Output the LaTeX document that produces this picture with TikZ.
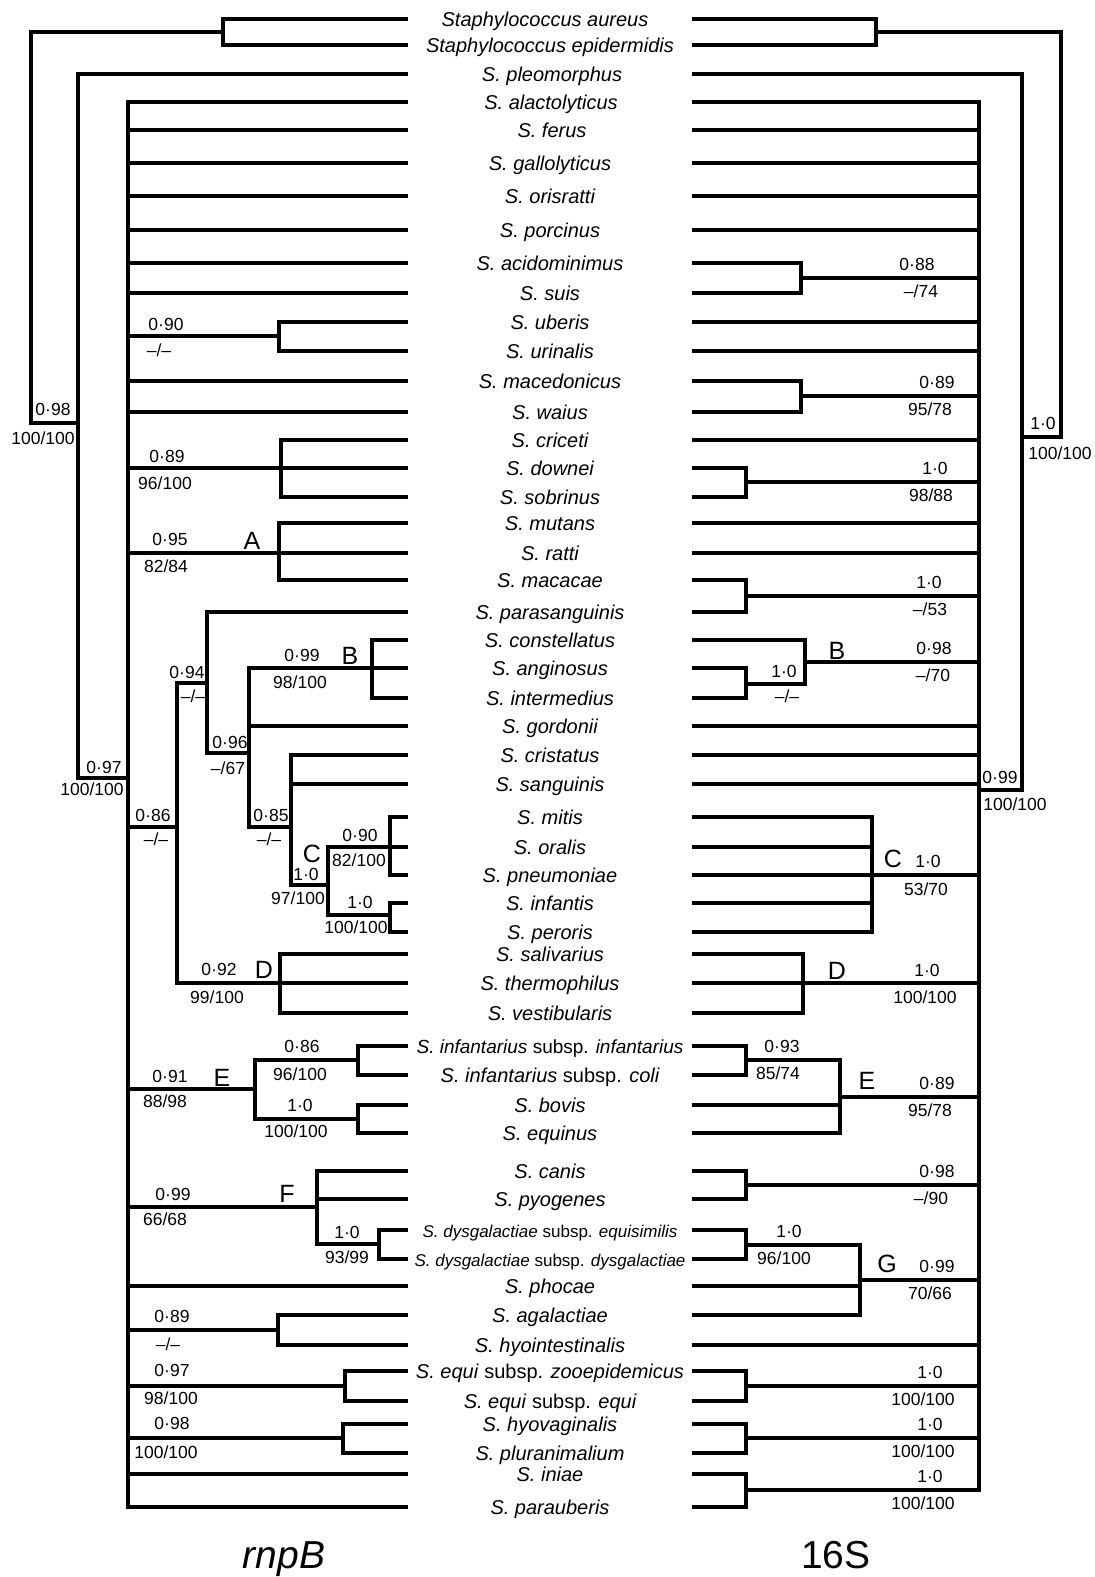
\documentclass[tikz,border=0pt]{standalone}
\usepackage{fontspec}
\setmainfont{Liberation Sans}

\begin{document}
\begin{tikzpicture}[
  x=1pt,
  y=-1pt,
  taxon/.style={
    inner sep=0pt,
    text height=14.3pt,
    text depth=0pt,
    font=\fontsize{20}{24}\selectfont\itshape
  },
  longtaxon/.style={
    taxon,
    font=\fontsize{17}{20}\selectfont\itshape
  },
  support/.style={
    inner sep=0pt,
    text height=12.5pt,
    text depth=0pt,
    font=\fontsize{17.5}{21}\selectfont
  },
  clade/.style={
    inner sep=0pt,
    text height=18pt,
    text depth=0pt,
    font=\fontsize{25}{30}\selectfont
  },
  gene/.style={
    anchor=base,
    inner sep=0pt,
    font=\fontsize{39}{46}\selectfont
  },
  branch/.style={line width=3.9pt}
]
  \useasboundingbox (0,0) rectangle (1095,1577);
  \coordinate (L) at (408,0);
  \coordinate (R) at (692,0);
  \coordinate (L0) at (128,0);
  \coordinate (R0) at (979,0);

  \node[taxon] (aur) at (545,19) {Staphylococcus aureus};
  \node[taxon] (epi) at (550,45) {Staphylococcus epidermidis};
  \node[taxon] (pleo) at (552,74) {S. pleomorphus};
  \node[taxon] (alac) at (551,102) {S. alactolyticus};
  \node[taxon] (ferus) at (552,130) {S. ferus};
  \node[taxon] (gallo) at (550,163) {S. gallolyticus};
  \node[taxon] (oris) at (550,196) {S. orisratti};
  \node[taxon] (porc) at (550,230) {S. porcinus};
  \node[taxon] (acid) at (550,263) {S. acidominimus};
  \node[taxon] (suis) at (550,293) {S. suis};
  \node[taxon] (uber) at (550,322) {S. uberis};
  \node[taxon] (urin) at (550,351) {S. urinalis};
  \node[taxon] (mace) at (550,381) {S. macedonicus};
  \node[taxon] (waius) at (550,412) {S. waius};
  \node[taxon] (cric) at (550,440) {S. criceti};
  \node[taxon] (down) at (550,468) {S. downei};
  \node[taxon] (sobr) at (550,497) {S. sobrinus};
  \node[taxon] (mut) at (550,523) {S. mutans};
  \node[taxon] (ratti) at (550,553) {S. ratti};
  \node[taxon] (maca) at (550,580) {S. macacae};
  \node[taxon] (paras) at (550,612) {S. parasanguinis};
  \node[taxon] (const) at (550,640) {S. constellatus};
  \node[taxon] (angi) at (550,668) {S. anginosus};
  \node[taxon] (inter) at (550,698) {S. intermedius};
  \node[taxon] (gord) at (550,726) {S. gordonii};
  \node[taxon] (crist) at (550,755) {S. cristatus};
  \node[taxon] (sang) at (550,784) {S. sanguinis};
  \node[taxon] (mitis) at (550,817) {S. mitis};
  \node[taxon] (oralis) at (550,847) {S. oralis};
  \node[taxon] (pneu) at (550,875) {S. pneumoniae};
  \node[taxon] (infan) at (550,903) {S. infantis};
  \node[taxon] (peror) at (550,932) {S. peroris};
  \node[taxon] (saliv) at (550,954) {S. salivarius};
  \node[taxon] (therm) at (550,983) {S. thermophilus};
  \node[taxon] (vest) at (550,1013) {S. vestibularis};
  \node[taxon, font=\fontsize{19}{23}\selectfont\itshape] (infinf) at (550,1046) {S. infantarius \textup{subsp.} infantarius};
  \node[taxon] (infcol) at (550,1075) {S. infantarius \textup{subsp.} coli};
  \node[taxon] (bovis) at (550,1105) {S. bovis};
  \node[taxon] (equinus) at (550,1133) {S. equinus};
  \node[taxon] (canis) at (550,1171) {S. canis};
  \node[taxon] (pyog) at (550,1199) {S. pyogenes};
  \node[longtaxon] (dysequ) at (550,1230) {S. dysgalactiae \textup{subsp.} equisimilis};
  \node[longtaxon] (dysdys) at (550,1259) {S. dysgalactiae \textup{subsp.} dysgalactiae};
  \node[taxon] (phocae) at (550,1286) {S. phocae};
  \node[taxon] (agal) at (550,1315) {S. agalactiae};
  \node[taxon] (hyoint) at (550,1345) {S. hyointestinalis};
  \node[taxon] (equizoo) at (550,1371) {S. equi \textup{subsp.} zooepidemicus};
  \node[taxon] (equiequi) at (550,1401) {S. equi \textup{subsp.} equi};
  \node[taxon] (hyovag) at (550,1424) {S. hyovaginalis};
  \node[taxon] (plur) at (550,1453) {S. pluranimalium};
  \node[taxon] (iniae) at (550,1474) {S. iniae};
  \node[taxon] (parau) at (550,1507) {S. parauberis};

  \draw[branch] (aur -| L) -| (223,45) -- (epi -| L);
  \draw[branch] (223,32) -| (31,423) -- (78,423);
  \draw[branch] (pleo -| L) -| (78,778) -- (128,778);
  \draw[branch] (alac -| L) -| (128,1507) -- (parau -| L);
  \draw[branch] (ferus -| L) -- (ferus -| L0) (gallo -| L) -- (gallo -| L0)
    (oris -| L) -- (oris -| L0) (porc -| L) -- (porc -| L0)
    (acid -| L) -- (acid -| L0) (suis -| L) -- (suis -| L0)
    (mace -| L) -- (mace -| L0) (waius -| L) -- (waius -| L0)
    (phocae -| L) -- (phocae -| L0) (iniae -| L) -- (iniae -| L0);
  \draw[branch] (uber -| L) -| (279,351) -- (urin -| L) (279,336) -- (128,336);
  \draw[branch] (cric -| L) -| (281,497) -- (sobr -| L) (down -| L) -- (down -| L0);
  \draw[branch] (mut -| L) -| (279,580) -- (maca -| L) (ratti -| L) -- (ratti -| L0);
  \draw[branch] (128,827) -- (177,827);
  \draw[branch] (207,683) -| (177,983) -- (therm -| L);
  \draw[branch] (paras -| L) -| (207,753) -- (249,753);
  \draw[branch] (angi -| L) -| (249,827) -- (291,827);
  \draw[branch] (const -| L) -| (372,698) -- (inter -| L);
  \draw[branch] (gord -| L) -- (249,726);
  \draw[branch] (crist -| L) -| (291,885) -- (328,885);
  \draw[branch] (sang -| L) -- (291,784);
  \draw[branch] (oralis -| L) -| (328,915) -- (390,915);
  \draw[branch] (mitis -| L) -| (390,875) -- (pneu -| L);
  \draw[branch] (infan -| L) -| (390,932) -- (peror -| L);
  \draw[branch] (saliv -| L) -| (280,1013) -- (vest -| L);
  \draw[branch] (infinf -| L) -| (358,1075) -- (infcol -| L);
  \draw[branch] (bovis -| L) -| (358,1133) -- (equinus -| L);
  \draw[branch] (358,1060) -| (255,1119) -- (358,1119);
  \draw[branch] (128,1089) -- (255,1089);
  \draw[branch] (canis -| L) -| (317,1244) -- (379,1244);
  \draw[branch] (pyog -| L) -- (317,1199);
  \draw[branch] (128,1207) -- (317,1207);
  \draw[branch] (dysequ -| L) -| (379,1259) -- (dysdys -| L);
  \draw[branch] (agal -| L) -| (278,1345) -- (hyoint -| L) (278,1330) -- (128,1330);
  \draw[branch] (equizoo -| L) -| (345,1401) -- (equiequi -| L) (345,1386) -- (128,1386);
  \draw[branch] (hyovag -| L) -| (343,1453) -- (plur -| L) (343,1438) -- (128,1438);

  \draw[branch] (aur -| R) -| (876,45) -- (epi -| R);
  \draw[branch] (876,32) -| (1061,437) -- (1022,437);
  \draw[branch] (pleo -| R) -| (1022,790) -- (979,790);
  \draw[branch] (alac -| R) -| (979,1490) -- (746,1490);
  \draw[branch] (iniae -| R) -| (746,1507) -- (parau -| R);
  \draw[branch] (ferus -| R) -- (ferus -| R0) (gallo -| R) -- (gallo -| R0)
    (oris -| R) -- (oris -| R0) (porc -| R) -- (porc -| R0)
    (uber -| R) -- (uber -| R0) (urin -| R) -- (urin -| R0)
    (cric -| R) -- (cric -| R0) (mut -| R) -- (mut -| R0)
    (ratti -| R) -- (ratti -| R0) (gord -| R) -- (gord -| R0)
    (crist -| R) -- (crist -| R0) (sang -| R) -- (sang -| R0)
    (hyoint -| R) -- (hyoint -| R0);
  \draw[branch] (acid -| R) -| (801,293) -- (suis -| R) (801,278) -- (979,278);
  \draw[branch] (mace -| R) -| (801,412) -- (waius -| R) (801,396) -- (979,396);
  \draw[branch] (down -| R) -| (746,497) -- (sobr -| R) (746,482) -- (979,482);
  \draw[branch] (maca -| R) -| (746,612) -- (paras -| R) (746,596) -- (979,596);
  \draw[branch] (angi -| R) -| (746,698) -- (inter -| R);
  \draw[branch] (const -| R) -| (805,684) -- (746,684) (805,662) -- (979,662);
  \draw[branch] (mitis -| R) -| (872,932) -- (peror -| R);
  \draw[branch] (oralis -| R) -- (872,847) (infan -| R) -- (872,903) (pneu -| R) -- (pneu -| R0);
  \draw[branch] (saliv -| R) -| (803,1013) -- (vest -| R) (therm -| R) -- (therm -| R0);
  \draw[branch] (infinf -| R) -| (746,1075) -- (infcol -| R);
  \draw[branch] (746,1060) -| (840,1133) -- (equinus -| R) (bovis -| R) -- (840,1105) (840,1097) -- (979,1097);
  \draw[branch] (canis -| R) -| (746,1199) -- (pyog -| R) (746,1185) -- (979,1185);
  \draw[branch] (dysequ -| R) -| (746,1259) -- (dysdys -| R);
  \draw[branch] (746,1245) -| (860,1315) -- (agal -| R) (phocae -| R) -- (860,1286) (860,1280) -- (979,1280);
  \draw[branch] (equizoo -| R) -| (746,1401) -- (equiequi -| R) (746,1386) -- (979,1386);
  \draw[branch] (hyovag -| R) -| (746,1453) -- (plur -| R) (746,1438) -- (979,1438);

  \node[support] (root-l) at (53,409) {0·98};
  \node[support] (root-lb) at (43,438) {100/100};
  \node[support] (strep-l) at (104,767) {0·97};
  \node[support] (strep-lb) at (92,789) {100/100};
  \node[support] (uber-l) at (166,324) {0·90};
  \node[support] (uber-lb) at (159,350) {–/–};
  \node[support] (cric-l) at (167,456) {0·89};
  \node[support] (cric-lb) at (165,483) {96/100};
  \node[support] (cladeA-l) at (170,539) {0·95};
  \node[support] (cladeA-lb) at (166,566) {82/84};
  \node[support] (n094-l) at (187,672) {0·94};
  \node[support] (n094-lb) at (193,696) {–/–};
  \node[support] (cladeB-l) at (302,655) {0·99};
  \node[support] (cladeB-lb) at (300,682) {98/100};
  \node[support] (n096-l) at (230,742) {0·96};
  \node[support] (n096-lb) at (228,768) {–/67};
  \node[support] (n086-l) at (153,815) {0·86};
  \node[support] (n086-lb) at (156,839) {–/–};
  \node[support] (n085-l) at (271,815) {0·85};
  \node[support] (n085-lb) at (269,839) {–/–};
  \node[support] (cladeC-l) at (306,874) {1·0};
  \node[support] (cladeC-lb) at (298,898) {97/100};
  \node[support] (mitis-l) at (360,835) {0·90};
  \node[support] (mitis-lb) at (359,860) {82/100};
  \node[support] (infan-l) at (360,902) {1·0};
  \node[support] (infan-lb) at (356,927) {100/100};
  \node[support] (cladeD-l) at (219,969) {0·92};
  \node[support] (cladeD-lb) at (217,997) {99/100};
  \node[support] (cladeE-l) at (170,1076) {0·91};
  \node[support] (cladeE-lb) at (165,1101) {88/98};
  \node[support] (infant-l) at (302,1046) {0·86};
  \node[support] (infant-lb) at (300,1074) {96/100};
  \node[support] (bovis-l) at (300,1105) {1·0};
  \node[support] (bovis-lb) at (296,1131) {100/100};
  \node[support] (cladeF-l) at (173,1194) {0·99};
  \node[support] (cladeF-lb) at (165,1219) {66/68};
  \node[support] (dys-l) at (347,1232) {1·0};
  \node[support] (dys-lb) at (347,1257) {93/99};
  \node[support] (agal-l) at (172,1316) {0·89};
  \node[support] (agal-lb) at (168,1344) {–/–};
  \node[support] (equi-l) at (172,1370) {0·97};
  \node[support] (equi-lb) at (171,1398) {98/100};
  \node[support] (hyovag-l) at (172,1423) {0·98};
  \node[support] (hyovag-lb) at (166,1452) {100/100};

  \node[clade] (cladeA-ln) at (252,540) {A};
  \node[clade] (cladeB-ln) at (350,655) {B};
  \node[clade] (cladeC-ln) at (312,853) {C};
  \node[clade] (cladeD-ln) at (264,969) {D};
  \node[clade] (cladeE-ln) at (222,1077) {E};
  \node[clade] (cladeF-ln) at (287,1193) {F};

  \node[support] (root-r) at (1043,423) {1·0};
  \node[support] (root-rb) at (1060,453) {100/100};
  \node[support] (strep-r) at (1000,777) {0·99};
  \node[support] (strep-rb) at (1015,804) {100/100};
  \node[support] (acid-r) at (917,264) {0·88};
  \node[support] (acid-rb) at (921,291) {–/74};
  \node[support] (mace-r) at (937,382) {0·89};
  \node[support] (mace-rb) at (930,409) {95/78};
  \node[support] (down-r) at (935,468) {1·0};
  \node[support] (down-rb) at (931,495) {98/88};
  \node[support] (maca-r) at (929,582) {1·0};
  \node[support] (maca-rb) at (930,609) {–/53};
  \node[support] (cladeB-r) at (934,648) {0·98};
  \node[support] (cladeB-rb) at (933,675) {–/70};
  \node[support] (angi-r) at (784,671) {1·0};
  \node[support] (angi-rb) at (787,696) {–/–};
  \node[support] (cladeC-r) at (928,861) {1·0};
  \node[support] (cladeC-rb) at (926,889) {53/70};
  \node[support] (cladeD-r) at (927,970) {1·0};
  \node[support] (cladeD-rb) at (925,997) {100/100};
  \node[support] (infant-r) at (782,1046) {0·93};
  \node[support] (infant-rb) at (778,1073) {85/74};
  \node[support] (cladeE-r) at (937,1083) {0·89};
  \node[support] (cladeE-rb) at (930,1110) {95/78};
  \node[support] (canis-r) at (937,1171) {0·98};
  \node[support] (canis-rb) at (931,1198) {–/90};
  \node[support] (dys-r) at (789,1231) {1·0};
  \node[support] (dys-rb) at (784,1258) {96/100};
  \node[support] (cladeG-r) at (937,1266) {0·99};
  \node[support] (cladeG-rb) at (930,1293) {70/66};
  \node[support] (equi-r) at (930,1372) {1·0};
  \node[support] (equi-rb) at (923,1399) {100/100};
  \node[support] (hyovag-r) at (930,1424) {1·0};
  \node[support] (hyovag-rb) at (923,1451) {100/100};
  \node[support] (iniae-r) at (930,1476) {1·0};
  \node[support] (iniae-rb) at (923,1503) {100/100};

  \node[clade] (cladeB-rn) at (837,650) {B};
  \node[clade] (cladeC-rn) at (893,858) {C};
  \node[clade] (cladeD-rn) at (837,970) {D};
  \node[clade] (cladeE-rn) at (867,1080) {E};
  \node[clade] (cladeG-rn) at (887,1263) {G};

  \node[gene] (rnpb) at (284,1568) {\itshape rnpB};
  \node[gene] (rrna) at (836,1568) {16S};
\end{tikzpicture}
\end{document}
